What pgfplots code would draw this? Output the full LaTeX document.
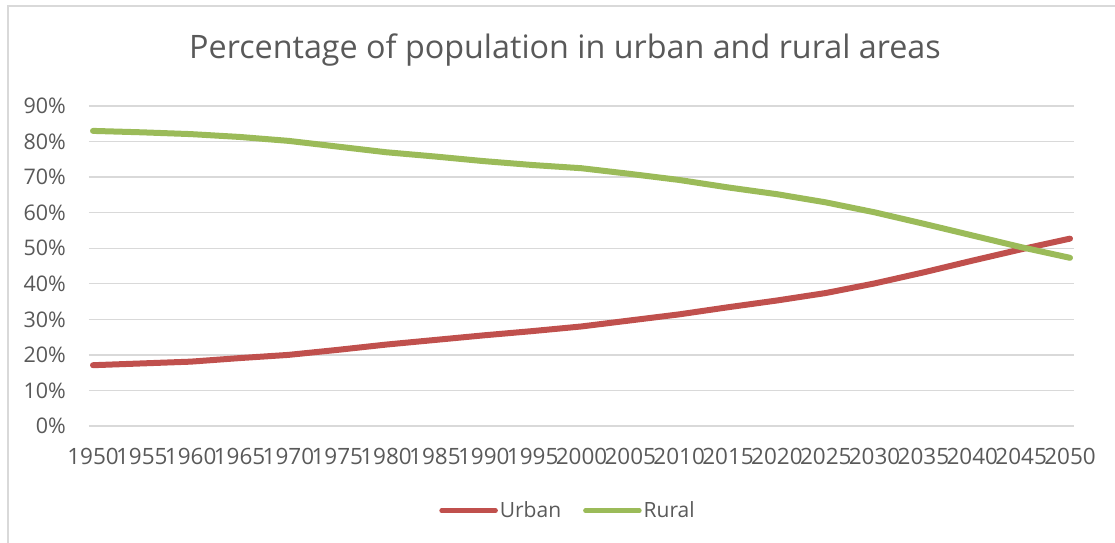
\documentclass[border=0pt]{standalone}
\usepackage{fontspec}
\setmainfont{Open Sans}
\usepackage{pgfplots}
\pgfplotsset{compat=1.18}

\definecolor{urbanred}{HTML}{C0504D}
\definecolor{ruralgreen}{HTML}{9BBB59}
\definecolor{txtgray}{HTML}{595959}
\definecolor{gridgray}{HTML}{D9D9D9}

\pgfplotstableread{
year urban rural
1950 17.1 83.0
1955 17.6 82.6
1960 18.1 82.1
1965 19.1 81.3
1970 20.0 80.2
1975 21.4 78.6
1980 22.9 77.0
1985 24.2 75.8
1990 25.5 74.5
1995 26.7 73.4
2000 28.0 72.5
2005 29.7 70.9
2010 31.4 69.2
2015 33.4 67.1
2020 35.3 65.2
2025 37.4 62.9
2030 40.1 60.1
2035 43.2 56.9
2040 46.5 53.6
2045 49.7 50.3
2050 52.7 47.3
}\popdata

\begin{document}
\begin{tikzpicture}[x=1pt,y=1pt]
\path[use as bounding box] (0,0) rectangle (1115,542);
% chart frame
\draw[gridgray, line width=1.5pt] (8,-5) -- (8,536) -- (1120,536);
% title
\node[text=txtgray, font=\fontsize{32.3}{38}\selectfont] at (565,492) {Percentage of population in urban and rural areas};
\begin{axis}[
  at={(89pt,116pt)}, anchor=south west,
  scale only axis, width=985pt, height=320pt,
  xmin=1949.59, xmax=2050.41, ymin=0, ymax=90,
  axis x line*=bottom, axis y line*=left,
  x axis line style={gridgray, line width=2.2pt},
  y axis line style={draw=none},
  xtick={1950,1955,...,2050}, ytick={0,10,...,90},
  major tick length=0pt,
  ymajorgrids, major grid style={gridgray, line width=1.4pt},
  /pgf/number format/assume math mode=true,
  xticklabel={\pgfmathprintnumber[1000 sep={}]{\tick}},
  yticklabel={\pgfmathprintnumber{\tick}\%},
  xticklabel style={text=txtgray, font=\fontsize{22.5}{26}\selectfont, anchor=center, inner sep=0pt, yshift=-30.5pt},
  yticklabel style={text=txtgray, font=\fontsize{21.5}{25}\selectfont, anchor=east, inner sep=0pt, xshift=-23pt},
  legend columns=2,
  legend style={draw=none, fill=none, at={(0.4863,-0.2647)}, anchor=center,
    font=\fontsize{21}{25}\selectfont, text=txtgray,
    /tikz/every even column/.append style={column sep=20pt},
    inner sep=0pt, row sep=0pt},
  legend image code/.code={\draw[#1, line width=4.5pt, line cap=round] (0pt,0pt) -- (54pt,0pt);},
  every axis legend/.append style={nodes={inner xsep=2pt}},
]
\addplot[urbanred, line width=6pt, line cap=round, line join=round] table[x=year, y=urban] {\popdata};
\addlegendentry{Urban}
\addplot[ruralgreen, line width=6pt, line cap=round, line join=round] table[x=year, y=rural] {\popdata};
\addlegendentry{Rural}
\end{axis}
\end{tikzpicture}
\end{document}
